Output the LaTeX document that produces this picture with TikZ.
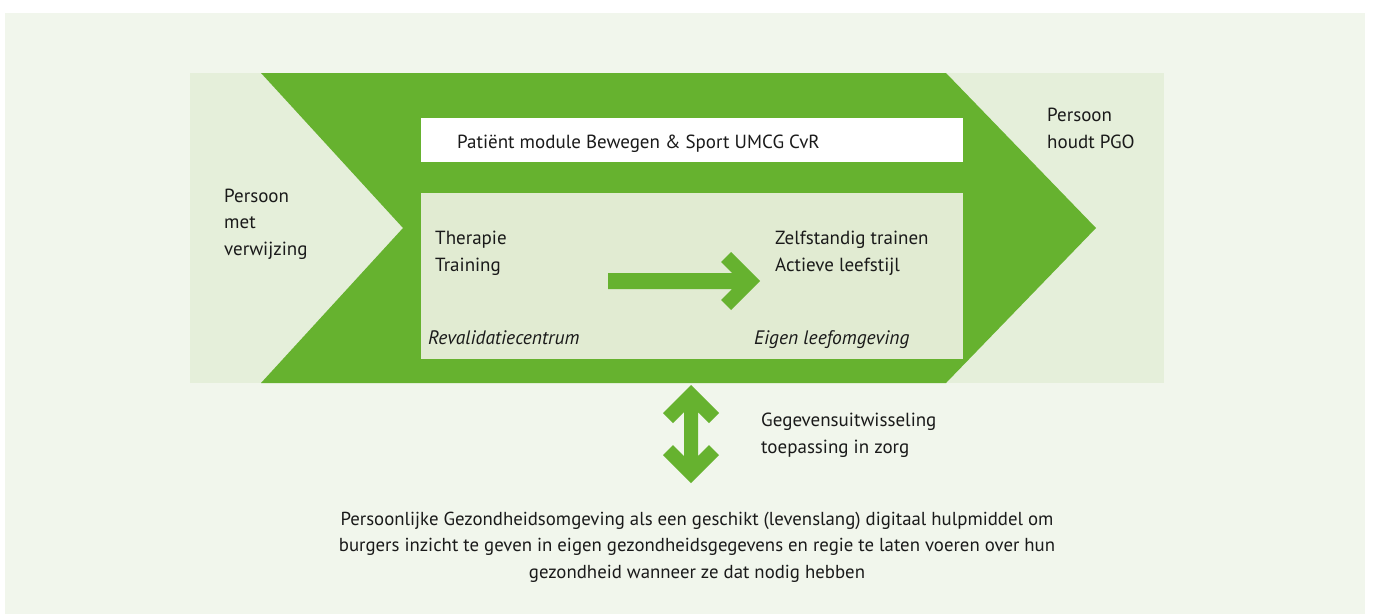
\documentclass[tikz,border=0pt]{standalone}
\usepackage{fontspec}
\setmainfont{PT Sans}
\definecolor{panelc}{HTML}{F1F6EC}
\definecolor{bandc}{HTML}{E5EFDA}
\definecolor{innerc}{HTML}{E1EBD2}
\definecolor{pgreen}{HTML}{66B22F}
\definecolor{textc}{HTML}{1A1A1A}
\begin{document}
\begin{tikzpicture}[x=1pt,y=-1pt,
  txt/.style={inner sep=0pt, anchor=base west, align=left, text=textc,
    font=\fontsize{19}{26.5}\selectfont},
  itxt/.style={txt, font=\fontsize{19.5}{26.5}\selectfont\itshape},
  ctxt/.style={inner sep=0pt, anchor=base, align=center, text=textc,
    font=\fontsize{18.8}{26.5}\selectfont}]
\useasboundingbox (0,0) rectangle (1373,614);
% backgrounds
\fill[panelc] (5,13) rectangle (1365,614);
\fill[bandc] (190,73) rectangle (1164,383);
% green chevron
\fill[pgreen] (261,73) -- (946,73) -- (1096,228) -- (946,383) -- (261,383) -- (403,228) -- cycle;
% white module box and inner box
\fill[white] (421,118) rectangle (963,162);
\fill[innerc] (421,193) rectangle (963,359);
% horizontal arrow
\fill[pgreen] (608,273) -- (732,273) -- (721,262) -- (731,252) -- (760,281)
  -- (731,310) -- (721,300) -- (732,289) -- (608,289) -- cycle;
% vertical double arrow
\fill[pgreen] (691,385) -- (719,413) -- (709,423) -- (698,412) -- (698,456)
  -- (709,445) -- (719,455) -- (691,483) -- (663,455) -- (673,445)
  -- (684,456) -- (684,412) -- (673,423) -- (663,413) -- cycle;
% texts (anchor base = baseline of last line)
\node[txt] (left) at (224,255) {Persoon\\met\\verwijzing};
\node[txt] (right) at (1047,148) {Persoon\\houdt PGO};
\node[txt] (module) at (457,148) {Patiënt module Bewegen \& Sport UMCG CvR};
\node[txt] (thera) at (435,271) {Therapie\\Training};
\node[txt] (zelf) at (775,271) {Zelfstandig trainen\\Actieve leefstijl};
\node[itxt] (reval) at (428,344) {Revalidatiecentrum};
\node[itxt] (eigen) at (754,344) {Eigen leefomgeving};
\node[txt] (gegev) at (761,453) {Gegevensuitwisseling\\toepassing in zorg};
\node[ctxt] (pgo) at (697,578) {Persoonlijke Gezondheidsomgeving als een geschikt (levenslang) digitaal hulpmiddel om\\burgers inzicht te geven in eigen gezondheidsgegevens en regie te laten voeren over hun\\gezondheid wanneer ze dat nodig hebben};
\end{tikzpicture}
\end{document}
